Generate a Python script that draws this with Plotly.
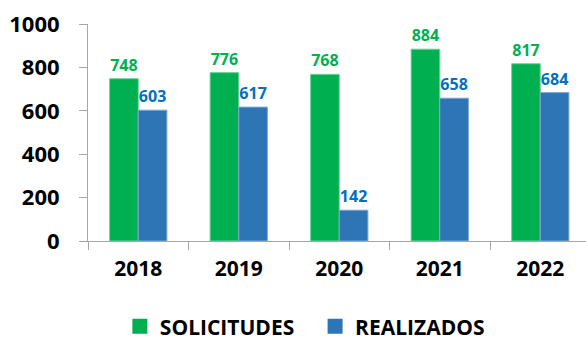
import plotly.graph_objects as go

years = ["2018", "2019", "2020", "2021", "2022"]
solicitudes = [748, 776, 768, 884, 817]
realizados = [603, 617, 142, 658, 684]

FONT = "Open Sans"
GREEN = "#00B050"
BLUE = "#2E75B6"
GREEN_EDGE = "#6FD39A"
BLUE_EDGE = "#7FA8D6"
AXIS = "#A6A6A6"

fig = go.Figure()
fig.add_trace(go.Bar(
    x=years, y=solicitudes, name="SOLICITUDES", showlegend=False,
    marker=dict(color=GREEN, line=dict(color=GREEN_EDGE, width=1)),
    text=solicitudes, textposition="outside", cliponaxis=False,
    textfont=dict(family=FONT, size=16, color=GREEN, weight="bold"),
))
fig.add_trace(go.Bar(
    x=years, y=realizados, name="REALIZADOS", showlegend=False,
    marker=dict(color=BLUE, line=dict(color=BLUE_EDGE, width=1)),
    text=realizados, textposition="outside", cliponaxis=False,
    textfont=dict(family=FONT, size=16, color="#0070C0", weight="bold"),
))

# legend entries with larger square swatches, one legend box each
for name, col, lg in [("SOLICITUDES", GREEN, "legend"), ("REALIZADOS", BLUE, "legend2")]:
    fig.add_trace(go.Scatter(
        x=[None], y=[None], mode="markers", name=name, legend=lg,
        marker=dict(symbol="square", size=15, color=col),
    ))

legend_style = dict(
    orientation="h", xanchor="left", y=-0.395, yanchor="middle",
    font=dict(family=FONT, size=21, color="black", weight="bold"),
    itemsizing="trace", itemwidth=30, bgcolor="rgba(0,0,0,0)",
)

fig.update_layout(
    width=586, height=341,
    margin=dict(l=88, r=0, t=24, b=100, autoexpand=False),
    paper_bgcolor="white", plot_bgcolor="white",
    barmode="group", bargap=0.43, bargroupgap=0,
    font=dict(family=FONT, color="black"),
    showlegend=True,
    legend=dict(x=0.064, **legend_style),
    legend2=dict(x=0.456, **legend_style),
    xaxis=dict(
        type="category", range=[-0.5, 4.455], automargin=False,
        showline=True, linecolor=AXIS, linewidth=1,
        ticks="outside", tickson="boundaries", ticklen=8, tickcolor=AXIS, tickwidth=1,
        tickfont=dict(family=FONT, size=21, color="black", weight="bold"),
        ticklabelstandoff=9,
        showgrid=False,
    ),
    yaxis=dict(
        range=[0, 1000], dtick=200, automargin=False,
        showline=True, linecolor=AXIS, linewidth=1,
        ticks="outside", ticklen=8, tickcolor=AXIS, tickwidth=1,
        tickfont=dict(family=FONT, size=22, color="black", weight="bold"),
        ticklabelstandoff=15,
        showgrid=False, zeroline=False,
    ),
)

fig.write_html("out.html")
